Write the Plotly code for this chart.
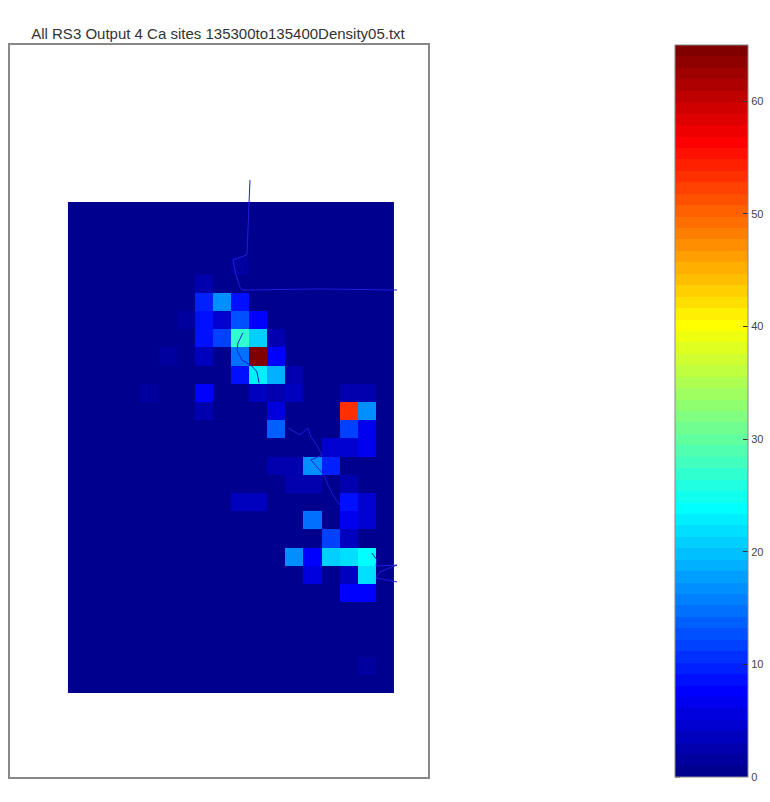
import plotly.graph_objects as go

title_text = "All RS3 Output 4 Ca sites 135300to135400Density05.txt"

# Density grid (27 rows top->bottom, 18 columns left->right)
density = [
    [0, 0, 0, 0, 0, 0, 0, 0, 0, 0, 0, 0, 0, 0, 0, 0, 0, 0],
    [0, 0, 0, 0, 0, 0, 0, 0, 0, 0, 0, 0, 0, 0, 0, 0, 0, 0],
    [0, 0, 0, 0, 0, 0, 0, 0, 0, 0, 0, 0, 0, 0, 0, 0, 0, 0],
    [0, 0, 0, 0, 0, 0, 0, 0, 0, 2, 0, 0, 0, 0, 0, 0, 0, 0],
    [0, 0, 0, 0, 0, 0, 0, 3, 0, 0, 0, 0, 0, 0, 0, 0, 0, 0],
    [0, 0, 0, 0, 0, 0, 0, 10, 17, 9, 0, 0, 0, 0, 0, 0, 0, 0],
    [0, 0, 0, 0, 0, 0, 2, 9, 5, 13, 8, 0, 0, 0, 0, 0, 0, 0],
    [0, 0, 0, 0, 0, 0, 0, 9, 12, 27, 21, 3, 0, 0, 0, 0, 0, 0],
    [0, 0, 0, 0, 0, 2, 0, 4, 0, 15, 65, 8, 0, 0, 0, 0, 0, 0],
    [0, 0, 0, 0, 0, 0, 0, 0, 0, 9, 23, 19, 3, 0, 0, 0, 0, 0],
    [0, 0, 0, 0, 2, 0, 0, 8, 0, 0, 4, 3, 4, 0, 0, 3, 3, 0],
    [0, 0, 0, 0, 0, 0, 0, 3, 0, 0, 0, 6, 0, 0, 0, 53, 17, 0],
    [0, 0, 0, 0, 0, 0, 0, 0, 0, 0, 0, 14, 0, 0, 0, 12, 7, 0],
    [0, 0, 0, 0, 0, 0, 0, 0, 0, 0, 0, 0, 0, 0, 5, 5, 7, 0],
    [0, 0, 0, 0, 0, 0, 0, 0, 0, 0, 0, 3, 3, 17, 10, 0, 0, 0],
    [0, 0, 0, 0, 0, 0, 0, 0, 0, 0, 0, 0, 3, 3, 0, 3, 0, 0],
    [0, 0, 0, 0, 0, 0, 0, 0, 0, 4, 4, 0, 0, 0, 0, 9, 5, 0],
    [0, 0, 0, 0, 0, 0, 0, 0, 0, 0, 0, 0, 0, 15, 0, 7, 5, 0],
    [0, 0, 0, 0, 0, 0, 0, 0, 0, 0, 0, 0, 0, 0, 12, 4, 0, 0],
    [0, 0, 0, 0, 0, 0, 0, 0, 0, 0, 0, 0, 17, 8, 21, 22, 24, 0],
    [0, 0, 0, 0, 0, 0, 0, 0, 0, 0, 0, 0, 0, 6, 0, 4, 22, 0],
    [0, 0, 0, 0, 0, 0, 0, 0, 0, 0, 0, 0, 0, 0, 0, 8, 8, 0],
    [0, 0, 0, 0, 0, 0, 0, 0, 0, 0, 0, 0, 0, 0, 0, 0, 0, 0],
    [0, 0, 0, 0, 0, 0, 0, 0, 0, 0, 0, 0, 0, 0, 0, 0, 0, 0],
    [0, 0, 0, 0, 0, 0, 0, 0, 0, 0, 0, 0, 0, 0, 0, 0, 0, 0],
    [0, 0, 0, 0, 0, 0, 0, 0, 0, 0, 0, 0, 0, 0, 0, 0, 2, 0],
    [0, 0, 0, 0, 0, 0, 0, 0, 0, 0, 0, 0, 0, 0, 0, 0, 0, 0],
]

# Trajectory paths (grid units)
path1_x = [9.55, 9.49, 9.44, 9.38, 8.61, 8.78, 8.99, 9.11, 13.41, 17.67]
path1_y = [-1.71, -0.61, 1.04, 2.41, 2.69, 3.51, 4.17, 4.34, 4.28, 4.34]
path2_x = [9.16, 8.89, 8.83, 9.11, 9.66, 9.94, 10.05]
path2_y = [6.70, 7.25, 7.64, 8.19, 8.52, 8.85, 9.45]
path3_x = [11.65, 12.31, 12.75, 12.92, 13.30, 13.53, 12.92, 13.30, 13.64, 13.86, 14.13, 14.52]
path3_y = [11.92, 12.31, 11.92, 12.42, 12.97, 13.41, 13.68, 14.12, 14.51, 15.06, 15.61, 16.16]
path4_x = [16.29, 16.56, 16.51, 17.67, 16.73, 16.51, 17.67]
path4_y = [18.80, 19.18, 19.51, 19.46, 19.84, 20.17, 20.39]

colorbar_ticks = [0, 10, 20, 30, 40, 50, 60]
z_min, z_max = 0, 65


# MATLAB jet(64) colormap, banded
def matlab_jet(m=64):
    n = -(-m // 4)
    u = [k / n for k in range(1, n + 1)] + [1.0] * (n - 1) + [k / n for k in range(n, 0, -1)]
    g0 = -(-n // 2) - (1 if m % 4 == 1 else 0)
    cols = [[0.0, 0.0, 0.0] for _ in range(m)]
    for k, val in enumerate(u):
        gi = g0 + k
        ri = gi + n
        bi = gi - n
        if 0 <= ri < m:
            cols[ri][0] = val
        if 0 <= gi < m:
            cols[gi][1] = val
        if 0 <= bi < m:
            cols[bi][2] = val
    return cols


jet_cols = matlab_jet(64)
jet_scale = []
for i, (r, g, b) in enumerate(jet_cols):
    col = "rgb(%d,%d,%d)" % (round(r * 255), round(g * 255), round(b * 255))
    jet_scale.append([i / 64, col])
    jet_scale.append([(i + 1) / 64, col])

fig = go.Figure()
fig.add_trace(go.Heatmap(
    z=density, x0=0, dx=1, y0=0, dy=1,
    zmin=z_min, zmax=z_max, colorscale=jet_scale,
    colorbar=dict(
        x=1.591, xanchor="left", xref="paper",
        y=0.5, yanchor="middle", len=1.0, lenmode="fraction",
        thickness=73, thicknessmode="pixels",
        tickvals=colorbar_ticks, ticks="inside", ticklen=5, tickcolor="#333",
        tickfont=dict(family="Liberation Sans, Arial", size=11, color="#444"),
        outlinewidth=1, outlinecolor="#888", ypad=0, xpad=0,
    ),
    hoverinfo="skip",
))
for px, py in [(path1_x, path1_y), (path2_x, path2_y), (path3_x, path3_y), (path4_x, path4_y)]:
    fig.add_trace(go.Scatter(x=px, y=py, mode="lines",
                             line=dict(color="rgb(30,30,220)", width=1),
                             showlegend=False, hoverinfo="skip"))

# left-side tick marks on the colorbar (MATLAB style)
cb_left = 1.591
for v in colorbar_ticks:
    yy = (v - z_min) / (z_max - z_min)
    fig.add_shape(type="line", xref="paper", yref="paper",
                  x0=cb_left, x1=cb_left + 5 / 418, y0=yy, y1=yy,
                  line=dict(color="#333", width=1))

fig.update_layout(
    width=770, height=802,
    margin=dict(l=10, r=342, t=45, b=25, autoexpand=False),
    paper_bgcolor="white", plot_bgcolor="white",
    title=dict(text=title_text, x=218 / 770, xanchor="center", xref="container",
               y=1 - 34 / 802, yanchor="middle", yref="container",
               font=dict(family="Liberation Sans, Arial", size=15, color="#333")),
    showlegend=False,
)
fig.update_xaxes(range=[-3.70, 19.38], showgrid=False, zeroline=False, showticklabels=False,
                 ticks="", showline=True, mirror=True, linecolor="#888", linewidth=1.5)
fig.update_yaxes(range=[31.11, -9.13], showgrid=False, zeroline=False, showticklabels=False,
                 ticks="", showline=True, mirror=True, linecolor="#888", linewidth=1.5)

fig.write_html("out.html", config={"displayModeBar": False},
               post_script="document.body.style.margin='0';document.body.style.overflow='hidden';")
